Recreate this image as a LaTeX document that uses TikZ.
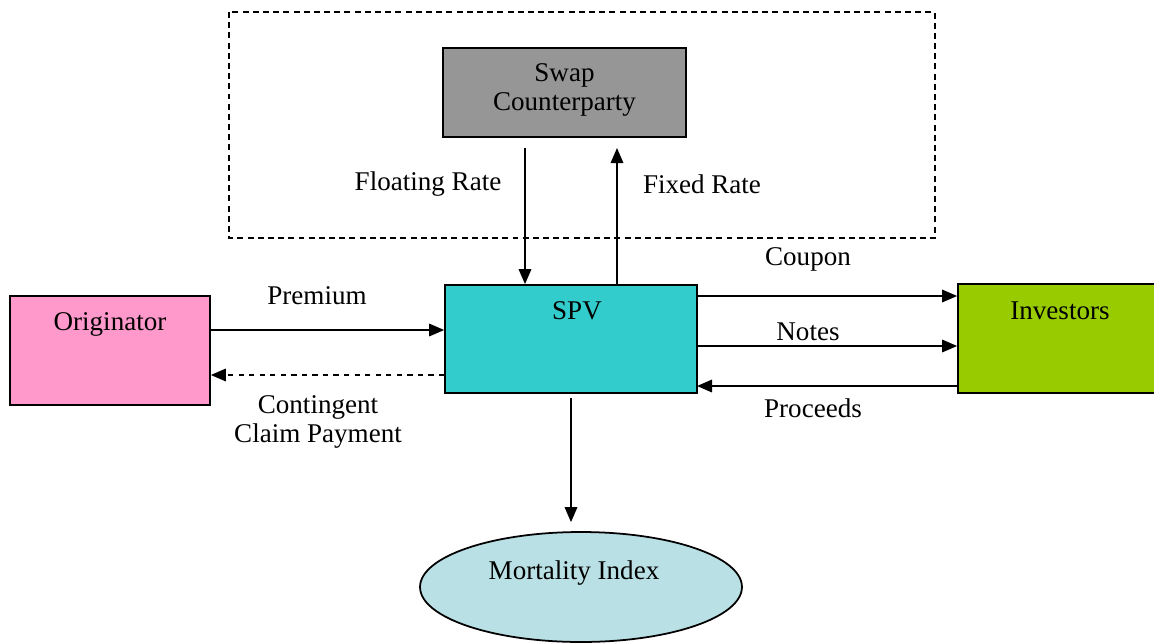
\documentclass[tikz,border=0pt]{standalone}
\usepackage{fontspec}
\setmainfont{Liberation Serif}
\usepackage{tikz}
\usetikzlibrary{arrows.meta, positioning, shapes.geometric}

\definecolor{swapgray}{HTML}{969696}
\definecolor{spvcyan}{HTML}{33CCCC}
\definecolor{origpink}{HTML}{FF99CC}
\definecolor{invgreen}{HTML}{99CC00}
\definecolor{mortblue}{HTML}{B9E0E4}

\tikzset{
  blk/.style={draw, line width=1pt, inner sep=0pt},
  lbl/.style={font=\fontsize{15.4}{16.6}\selectfont, align=center, inner sep=0pt},
  arr/.style={line width=1pt, -{Triangle[length=0.3cm,width=0.25cm]}},
}

\begin{document}
\begin{tikzpicture}[x=0.02cm, y=-0.02cm]

		\useasboundingbox (0,0) rectangle (1154,643);

		% Swap (dashed frame)
		\draw[line width=0.8pt, dash pattern=on 3.4pt off 2.4pt] (229,12) rectangle (935,238);
		\node[blk, fill=swapgray, minimum width=4.86cm, minimum height=1.78cm] (swap) at (564.5,92.5) {};
		\node[lbl] (swaptxt) at (564.5,90) {Swap\\Counterparty};

		% Blocks
		\node[blk, fill=spvcyan, minimum width=5.04cm, minimum height=2.16cm] (spv) at (571,339) {};
		\node[lbl] (spvtxt) at (577,311) {SPV};
		\node[blk, fill=origpink, minimum width=4cm, minimum height=2.18cm] (orig) at (110,350.5) {};
		\node[lbl] (origtxt) at (110,324) {Originator};
		\node[blk, fill=invgreen, minimum width=3.96cm, minimum height=2.18cm] (inv) at (1057,338.5) {};
		\node[lbl] (invtxt) at (1060,311) {Investors};
		\node[blk, ellipse, fill=mortblue, minimum width=6.44cm, minimum height=2.2cm] (mort) at (581,587) {};
		\node[lbl] (morttxt) at (574,573) {Mortality Index};

		% Swap arrows
		\coordinate (fl) at (525,148);
		\coordinate (fx) at (617,148);
		\draw[arr] (fl) -- (fl |- spv.north);
		\draw[arr] (fx |- spv.north) -- (fx);
		\node[lbl] (fltxt) at (428,184) {Floating Rate};
		\node[lbl] (fxtxt) at (702,184) {Fixed Rate};

		% Originator <-> SPV
		\coordinate (pr) at (205,330);
		\coordinate (cc) at (205,375);
		\draw[arr] (orig.east |- pr) -- (spv.west |- pr);
		\draw[arr, dashed] (spv.west |- cc) -- (orig.east |- cc);
		\node[lbl] (prtxt) at (317,296) {Premium};
		\node[lbl] (cctxt) at (318,422) {Contingent\\Claim Payment};

		% SPV <-> Investors
		\coordinate (cp) at (697,296);
		\coordinate (nt) at (697,346);
		\coordinate (pd) at (697,386);
		\draw[arr] (cp) -- (cp -| inv.west);
		\draw[arr] (nt) -- (nt -| inv.west);
		\draw[arr] (pd -| inv.west) -- (pd);
		\node[lbl] (cptxt) at (808,259) {Coupon};
		\node[lbl] (nttxt) at (808,332) {Notes};
		\node[lbl] (pdtxt) at (813,408) {Proceeds};

		% SPV -> Mortality Index
		\coordinate (mi) at (571,398);
		\draw[arr, shorten >=0.18cm] (mi) -- (mi |- mort.north);

	\end{tikzpicture}
\end{document}
